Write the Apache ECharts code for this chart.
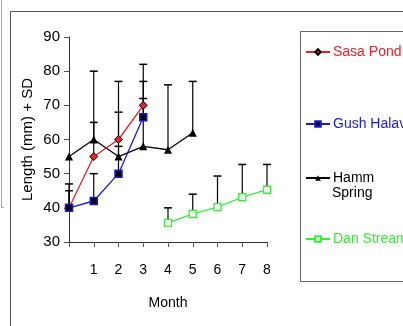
<!DOCTYPE html>
<html><head><meta charset="utf-8">
<script src="https://cdn.jsdelivr.net/npm/echarts@6/dist/echarts.min.js"></script>
<style>html,body{margin:0;padding:0;background:#fff}#c{width:403px;height:326px}</style>
</head><body><div id="c"></div>
<script>
// ---- data ----
var xTicks = [0, 1, 2, 3, 4, 5, 6, 7, 8];
var sasaMonths = [0, 1, 2, 3];
var sasaValues = [40, 55, 60, 70];
var sasaSD = [7, 10, 8, 12];
var gushMonths = [0, 1, 2, 3];
var gushValues = [40, 42, 50, 66.5];
var gushSD = [5, 8, 8, 5.5];
var hammMonths = [0, 1, 2, 3, 4, 5];
var hammValues = [55, 60, 55, 58, 57, 62];
var hammSD = [null, 20, 22, 19, 19, 15];
var danMonths = [4, 5, 6, 7, 8];
var danValues = [35.6, 38.2, 40.2, 43.1, 45.3];
var danSD = [4.4, 5.8, 9.1, 9.6, 7.4];

var FONT = 'Liberation Sans';
var RED = '#ec2026', BLUE = '#1a1ad0', BLACK = '#000', GREEN = '#33f033';

function pairs(ms, vs) { return ms.map(function (m, i) { return [m, vs[i]]; }); }
function triples(ms, vs, sds) {
  var out = [];
  ms.forEach(function (m, i) { if (sds[i] != null) out.push([m, vs[i], vs[i] + sds[i]]); });
  return out;
}
function errSeries(ms, vs, sds) {
  return {
    type: 'custom', z: 1, silent: true,
    data: triples(ms, vs, sds),
    encode: { x: 0, y: [1, 2] },
    renderItem: function (params, api) {
      var p0 = api.coord([api.value(0), api.value(1)]);
      var p1 = api.coord([api.value(0), api.value(2)]);
      var w = 4;
      return {
        type: 'group',
        children: [
          { type: 'line', shape: { x1: p0[0], y1: p0[1], x2: p1[0], y2: p1[1] }, style: { stroke: '#000', lineWidth: 1.2 } },
          { type: 'line', shape: { x1: p1[0] - w, y1: p1[1], x2: p1[0] + w, y2: p1[1] }, style: { stroke: '#000', lineWidth: 1.5 } }
        ]
      };
    }
  };
}
function lineSeries(name, ms, vs, color, symbol, size, itemStyle) {
  return {
    type: 'line', name: name, data: pairs(ms, vs), z: 3,
    symbol: symbol, symbolSize: size,
    lineStyle: { color: color, width: 1.3 },
    itemStyle: itemStyle,
    emphasis: { disabled: true }
  };
}

var chart = echarts.init(document.getElementById('c'), null, { renderer: 'canvas' });
function legendAt(name, color, top) {
  return {
    left: 305, top: top, orient: 'vertical', padding: 0,
    itemWidth: 24, itemHeight: 7, itemGap: 0,
    data: [name],
    selectedMode: false,
    textStyle: { color: color, fontFamily: FONT, fontSize: 14, padding: [0, 0, 0, -2] }
  };
}
chart.setOption({
  animation: false,
  textStyle: { fontFamily: FONT },
  grid: { left: 69, right: 136, top: 37, bottom: 84, containLabel: false },
  xAxis: {
    type: 'value', min: 0, max: 8, interval: 1,
    name: 'Month', nameLocation: 'middle', nameGap: 54,
    nameTextStyle: { color: '#000', fontSize: 14, fontFamily: FONT },
    axisLine: { lineStyle: { color: '#333', width: 1 } },
    axisTick: { show: true, length: 5, inside: false, lineStyle: { color: '#555' } },
    axisLabel: { color: '#000', fontSize: 14, margin: 21, fontFamily: FONT,
      formatter: function (v) { return xTicks.indexOf(v) > 0 ? String(v) : ''; } },
    splitLine: { show: false }
  },
  yAxis: {
    type: 'value', min: 30, max: 90, interval: 10,
    name: 'Length (mm) + SD', nameLocation: 'middle', nameGap: 34, nameRotate: 90,
    nameTextStyle: { color: '#000', fontSize: 15, fontFamily: FONT },
    axisLine: { show: true, lineStyle: { color: '#333', width: 1 } },
    axisTick: { show: true, length: 5, lineStyle: { color: '#555' } },
    axisLabel: { color: '#000', fontSize: 15, margin: 9, fontFamily: FONT },
    splitLine: { show: false }
  },
  legend: [
    legendAt('Sasa Pond', RED, 45),
    legendAt('Gush Halav', BLUE, 117),
    legendAt('Hamm', BLACK, 171),
    legendAt('Dan Stream', GREEN, 232)
  ],
  graphic: [
    { type: 'line', shape: { x1: 10.5, y1: 11.5, x2: 403, y2: 11.5 }, style: { stroke: '#555', lineWidth: 1 } },
    { type: 'line', shape: { x1: 10.5, y1: 11.5, x2: 10.5, y2: 326 }, style: { stroke: '#555', lineWidth: 1 } },
    { type: 'polyline', shape: { points: [[1.5, 0], [1.5, 207.5], [4, 207.5]] }, style: { stroke: '#aaa', fill: null, lineWidth: 1 } },
    { type: 'rect', shape: { x: 300.5, y: 31.5, width: 120, height: 250 }, style: { stroke: '#666', fill: null, lineWidth: 1 } },
    { type: 'text', left: 332, top: 186, style: { text: 'Spring', fill: '#000', font: '14px "Liberation Sans"' } }
  ],
  series: [
    errSeries(hammMonths, hammValues, hammSD),
    errSeries(sasaMonths, sasaValues, sasaSD),
    errSeries(gushMonths, gushValues, gushSD),
    errSeries(danMonths, danValues, danSD),
    lineSeries('Hamm', hammMonths, hammValues, BLACK, 'triangle', 8, { color: '#000' }),
    lineSeries('Sasa Pond', sasaMonths, sasaValues, RED, 'diamond', 8, { color: RED, borderColor: '#000', borderWidth: 1 }),
    lineSeries('Gush Halav', gushMonths, gushValues, BLUE, 'rect', 7, { color: '#000', borderColor: BLUE, borderWidth: 1.5 }),
    lineSeries('Dan Stream', danMonths, danValues, GREEN, 'rect', 7, { color: '#fff', borderColor: GREEN, borderWidth: 1.3 })
  ]
});
</script></body></html>
